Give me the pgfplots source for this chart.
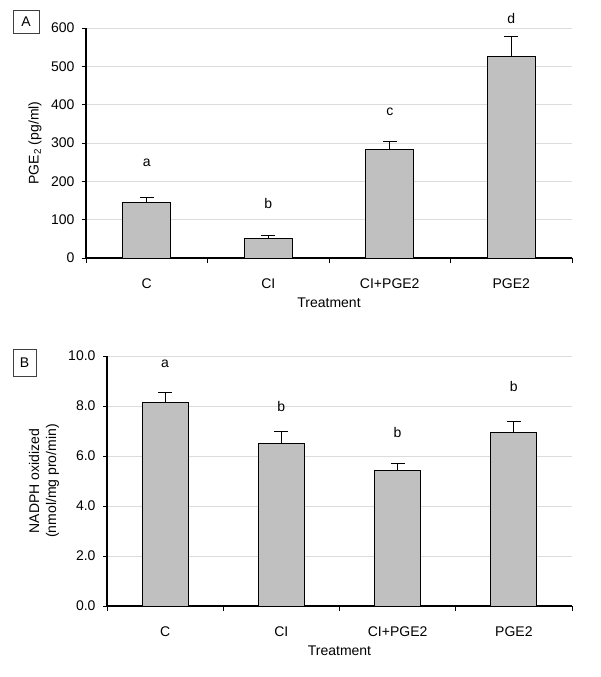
\documentclass[border=0pt]{standalone}
\usepackage{fontspec}
\setmainfont{Liberation Sans}
\usepackage{pgfplots}
\pgfplotsset{compat=1.18}
\definecolor{barfill}{HTML}{C0C0C0}
\definecolor{gridc}{HTML}{DCDCDC}
\pgfplotsset{panel/.style={
  scale only axis,
  axis lines=left,
  axis line style={-, line width=1.2pt, black},
  xmin=-0.5, xmax=3.5,
  ymin=0,
  xtick={0,1,2,3},
  xticklabels={C,CI,CI+PGE2,PGE2},
  major x tick style={draw=none},
  minor xtick={-0.5,0.5,1.5,2.5,3.5},
  minor x tick style={black, line width=1pt},
  minor tick length=5pt,
  major tick length=4pt,
  tick align=outside,
  y tick style={black, line width=1pt},
  ymajorgrids,
  grid style={gridc, line width=0.8pt},
  /pgf/number format/assume math mode=true,
  tick label style={font=\fontsize{14}{17}\selectfont},
  label style={font=\fontsize{14}{17}\selectfont},
  xticklabel style={anchor=center, yshift=-22pt},
  yticklabel style={anchor=east, xshift=-4pt},
  xlabel={Treatment},
  xlabel style={at={(axis description cs:0.5,0)}, anchor=center, yshift=-45pt},
  clip=false,
  ybar,
  error bars/y dir=plus, error bars/y explicit,
  error bars/error bar style={black, line width=0.8pt},
  error bars/error mark options={black, line width=0.8pt, mark size=7pt, rotate=90},
}}
\begin{document}
\begin{tikzpicture}[font=\fontsize{14}{17}\selectfont]
\path (0pt,0pt) rectangle (600pt,-677pt);
\node[draw=black!75, line width=0.6pt, minimum width=26pt, minimum height=23pt, inner sep=0pt] at (26pt,-21.5pt) {A};
\node[draw=black!75, line width=0.6pt, minimum width=23pt, minimum height=27pt, inner sep=0pt] at (24.5pt,-363pt) {B};
\begin{axis}[panel, at={(86pt,-258pt)}, anchor=south west,
  width=486pt, height=230pt, ymax=600, ytick={0,100,...,600},
  bar width=48pt,
  ylabel={PGE\textsubscript{2} (pg/ml)},
  ylabel style={at={(axis description cs:-0.105,0.5)}, anchor=center},
]
\addplot[fill=barfill, draw=black, line width=0.8pt] table[x=x, y=y, y error=e] {
x y e
0 144 14
1 52 6
2 284 20
3 525 54
};
\node at (axis cs:0,248) {a};
\node at (axis cs:1,143) {b};
\node at (axis cs:2,381) {c};
\node at (axis cs:3,626) {d};
\end{axis}
\begin{axis}[panel, at={(107pt,-606pt)}, anchor=south west,
  width=465pt, height=250pt, ymax=10, ytick={0,2,...,10},
  yticklabel style={/pgf/number format/.cd, fixed, fixed zerofill, precision=1},
  bar width=46pt,
  ylabel={NADPH oxidized\\(nmol/mg pro/min)},
  ylabel style={at={(axis description cs:-0.1355,0.5)}, anchor=center, align=center},
]
\addplot[fill=barfill, draw=black, line width=0.8pt] table[x=x, y=y, y error=e] {
x y e
0 8.16 0.39
1 6.51 0.48
2 5.43 0.28
3 6.95 0.45
};
\node at (axis cs:0,9.68) {a};
\node at (axis cs:1,7.97) {b};
\node at (axis cs:2,6.93) {b};
\node at (axis cs:3,8.77) {b};
\end{axis}
\end{tikzpicture}
\end{document}
